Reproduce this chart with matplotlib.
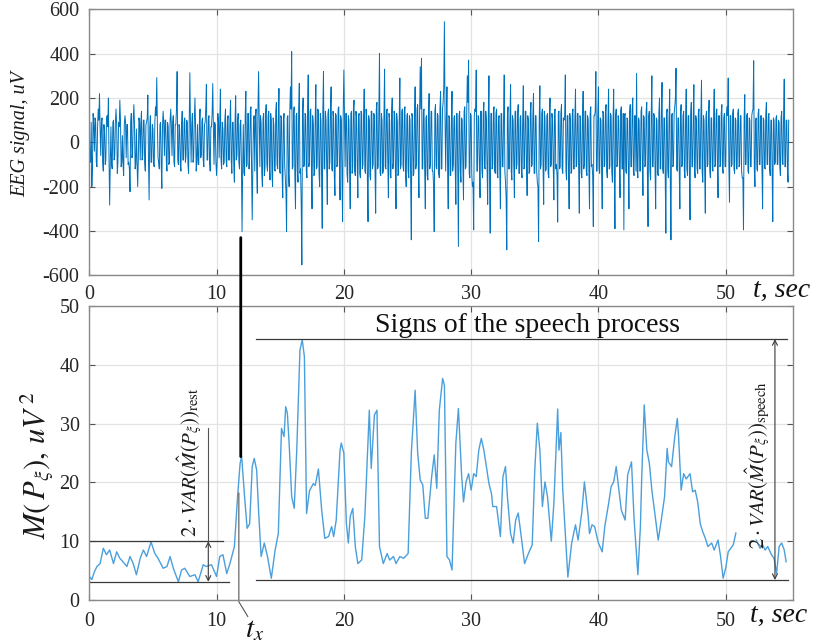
import numpy as np
import matplotlib
matplotlib.use("Agg")
import matplotlib.pyplot as plt
from matplotlib.patches import ConnectionPatch

plt.rcParams['font.family'] = ['Liberation Serif', 'DejaVu Serif']
plt.rcParams['mathtext.fontset'] = 'stix'
plt.rcParams['axes.unicode_minus'] = False
# keep every sample of the dense EEG trace
plt.rcParams['path.simplify'] = False

# ---------------- data ----------------
# EEG signal, uV, sampled at 20 samples per second (one row per second)
eeg_uv = [
    60, -80, -90, 90, -200, -100, 130, 80, -40, 110, 90, -90, -110, 70, 150, 100, 220, 60, -60, 90,
    110, -90, -130, 80, 40, -100, -80, 100, 120, 70, 200, -80, -283, -90, 70, -100, -120, 90, 100, -80,
    -60, 90, 150, 80, -140, -90, 90, 70, 190, 100, -110, -90, 30, -100, -150, 80, 120, 90, -70, 80,
    80, -100, -90, -120, -223, 90, 130, -70, -50, 100, 170, 80, -120, -100, 60, -90, -200, -80, 110, 90,
    -80, 90, 140, -80, -60, 100, 100, -90, -130, 80, 90, 110, 213, -80, -260, 70, 120, -90, -90, 80,
    60, -100, -110, 90, 160, 120, 292, 80, -70, -90, -120, 80, 90, -100, -208, 70, 140, 90, -60, 100,
    100, -80, -130, 90, 70, -100, -90, 100, 150, 70, -60, 90, 120, -90, -110, 80, 80, 150, 319, -80,
    -100, 80, 60, -100, -130, 80, 140, -80, -80, 90, 110, -90, -60, 100, 90, -100, -140, 90, 314, 70,
    -90, 80, 130, -90, -70, 100, 200, 70, -130, -80, 80, -100, -100, 90, 150, -70, -60, 100, 110, -80,
    -110, 80, 90, 150, 262, -80, -80, 100, 120, -90, -130, 70, 70, 130, 265, 60, -100, 90, 80, -90,
    -150, -80, 130, 90, -70, 90, 240, -80, -120, 90, 60, -100, -90, 100, 150, -80, -110, 90, 120, -80,
    -80, 100, 190, -80, -140, 90, 90, -100, -180, 90, 210, -80, -60, 100, 130, -90, -120, 80, 100, -100,
    -403, -120, 80, -140, -150, 120, 230, -110, -100, 130, 130, -120, -60, 140, 160, -130, -350, -100, 100, 120,
    -130, 110, 150, -120, -230, 140, 319, 100, -110, 120, 90, -140, -200, 110, 130, -150, -120, 130, 170, -100,
    -130, 120, 140, -110, -170, 130, 100, -140, -200, 110, 80, -120, -130, 140, 180, -100, -120, 110, 243, -130,
    -140, 120, 110, -150, -250, 100, 130, -100, -160, -220, -403, 110, 120, -140, -200, 130, 250, 150, 409, -120,
    -110, 140, 160, -150, -300, 120, 130, -130, -180, 150, 266, -140, -120, -280, -553, 130, 200, -110, -100, 130,
    120, -130, -160, 150, 304, -110, -90, 140, 150, -100, -300, 120, 80, -150, -140, 110, 260, -120, -110, 150,
    140, -140, -200, 130, 100, -150, -388, 150, 319, -120, -120, 140, 100, -110, -280, 130, 150, -120, -90, 150,
    250, -120, -130, 140, 110, -150, -240, 130, 120, -110, -100, 150, 160, -100, -260, 120, 100, -150, -358, 140,
    326, 120, -110, 130, 130, -140, -180, 120, 100, -120, -300, 130, 140, -140, -110, 150, 190, -130, -150, 140,
    110, -100, -250, 120, 130, -140, -160, 140, 130, -120, -100, 110, 240, -130, -140, 150, 100, -170, -358, 120,
    100, -150, -170, 140, 140, -120, -100, 130, 120, -140, -320, 150, 180, -120, -110, 150, 401, -140, -150, 130,
    100, -140, -130, 120, 330, -110, -120, 140, 150, -90, -250, 130, 100, -150, -160, 130, 200, -120, -90, 140,
    120, -120, -300, 130, 90, -150, -140, 110, 290, -120, -100, 140, 150, -110, -130, 140, 160, -150, -200, 120,
    130, -130, -160, 120, 100, -180, -440, 130, 110, -150, -140, 100, 250, -120, -100, 150, 170, -100, -250, 130,
    341, 150, 379, -120, -120, 140, 150, -120, -300, 110, 120, -150, -170, 130, 220, -120, -100, 140, 140, -130,
    -130, -200, -403, 140, 170, -110, -120, 130, 120, -140, -160, 150, 230, -120, -120, 150, 180, 250, 544, 110,
    -130, 100, 250, -110, -300, 120, 110, -150, -150, 100, 230, -130, -100, 110, 120, -120, -280, 130, 130, -140,
    -470, 120, 140, -130, -180, 110, 100, -100, -260, 140, 160, -120, -110, 120, 300, 180, 371, -140, -160, 130,
    120, -140, -200, -180, -395, 120, 150, 140, 326, -130, -130, 120, 110, -100, -250, 140, 140, -130, -160, 130,
    180, -110, -120, 140, 100, -110, -280, 120, 300, -180, -410, 130, 130, -120, -100, 140, 160, -130, -140, 130,
    150, -140, -160, 110, 120, -120, -300, 130, 130, -110, -110, 120, 304, -130, -180, -250, -485, 120, 160, -120,
    -120, 110, 260, -130, -170, 120, 100, -100, -250, 140, 140, -120, -100, 130, 170, -140, -140, 110, 120, -130,
    -160, 100, 255, -120, -110, 140, 140, -100, -240, 120, 100, -140, -130, 130, 180, -110, -100, 120, 220, -140,
    -140, 120, 120, -130, -180, -200, -448, 100, 255, -120, -100, 130, 150, -110, -280, 140, 110, -130, -120, 120,
    130, -140, -160, 120, 200, -110, -100, 130, 100, -100, -260, 140, 150, -120, -100, -150, -360, 130, 140, -120,
    -110, 130, 170, -120, -140, 110, 100, 120, 304, -130, -170, 120, 120, -120, -300, 130, 100, -140, -130, 130,
    150, -120, -120, 100, 240, -110, -100, 130, 130, -130, -320, 120, 110, -140, -160, 100, 230, -120, -100, 140,
    140, -130, -150, 120, 100, -120, -300, 130, 160, -110, -100, -150, -380, 120, 120, 140, 319, -130, -130, 120,
    250, -120, -140, 110, 100, -120, -300, 140, 130, -110, -100, 130, 170, -130, -160, 100, 240, -120, -110, 130,
    120, -130, -180, 100, 240, -150, -390, 120, 150, -110, -100, 120, 100, -100, -250, 140, 160, -120, -120, 130,
    -395, 120, 130, -130, -140, 110, 100, -120, -300, 130, 170, -110, -110, 140, 200, -130, -150, 120, 120, -130,
    311, -130, -160, 110, 100, -130, -130, 140, 160, -90, -240, 120, 110, -110, -100, 140, 180, -150, -380, 120,
    140, -130, -170, 120, 300, -110, -110, 130, 120, -120, -300, 110, 100, -140, -150, 130, 200, -120, -120, 140,
    270, -120, -140, 110, 110, -160, -410, 130, 150, -130, -160, 100, 240, -180, -440, 120, 130, -110, -100, 130,
    160, 200, 334, -120, -130, 110, 110, -120, -300, 130, 170, -110, -100, 120, 140, -130, -160, 100, 240, -120,
    -150, 120, 120, -140, -350, 130, 180, -110, -110, 100, 260, -130, -160, 120, 100, -120, -140, 130, 150, -120,
    -120, 110, 280, -130, -180, 120, 100, -130, -320, 120, 140, -110, -100, 130, 190, -130, -160, 110, 110, -120,
    -130, 100, 240, -110, -100, 130, 150, -100, -250, 120, 120, -110, -100, 130, 170, -120, -140, 110, 130, -110,
    -110, 120, 160, 120, 290, -110, -270, 120, 120, -110, -100, 130, 150, -120, -140, 110, 100, -120, -120, 130,
    150, -110, -100, 120, 120, -130, -160, -160, -395, 110, 215, -100, -100, 120, 130, -130, -140, 110, 100, -110,
    -110, 120, 140, 150, 368, -120, -200, 100, 110, -120, -130, 130, 150, -100, -100, 120, 120, -120, -300, 110,
    100, -110, -120, 130, 180, -100, -100, 120, 130, -120, -150, 100, 100, -140, -358, 110, 100, -100, -90, 110,
    120, -100, -100, 100, 90, -110, -150, 110, 140, -90, -100, 120, 285, -110, -110, 100, 100, -120, -180, 100,
]
eeg_rate_hz = 20.0

# Mean power estimate M(P_xi), uV^2
power_t = [
    0.0, 0.2, 0.4, 0.6, 0.85, 1.1, 1.35, 1.6, 1.9, 2.15, 2.4, 2.65, 2.95, 3.2,
    3.45, 3.7, 4.0, 4.25, 4.5, 4.85, 5.15, 5.4, 5.8, 6.1, 6.35, 6.6, 7.0, 7.25,
    7.5, 7.9, 8.3, 8.55, 8.95, 9.2, 9.6, 10.0, 10.25, 10.5, 10.8, 11.05, 11.4,
    11.65, 11.85, 11.97, 12.2, 12.4, 12.6, 12.8, 12.96, 13.15, 13.3, 13.5, 13.75,
    14.0, 14.3, 14.6, 14.85, 15.1, 15.3, 15.43, 15.56, 15.7, 15.9, 16.1, 16.3,
    16.55, 16.73, 16.9, 17.07, 17.3, 17.6, 17.75, 18.0, 18.25, 18.5, 18.8, 19.04,
    19.2, 19.4, 19.7, 19.8, 20.0, 20.2, 20.35, 20.5, 20.7, 20.9, 21.1, 21.4,
    21.65, 22.0, 22.15, 22.4, 22.6, 22.8, 23.1, 23.4, 23.6, 23.9, 24.1, 24.4,
    24.7, 25.05, 25.3, 25.6, 25.8, 26.0, 26.2, 26.4, 26.6, 26.9, 27.1, 27.3,
    27.5, 27.76, 27.9, 28.1, 28.3, 28.5, 28.8, 29.0, 29.25, 29.4, 29.6, 29.8,
    30.0, 30.2, 30.4, 30.6, 30.8, 31.0, 31.2, 31.4, 31.6, 31.7, 32.0, 32.3,
    32.5, 32.7, 32.85, 33.1, 33.3, 33.5, 33.7, 34.0, 34.2, 34.5, 34.8, 35.0,
    35.2, 35.4, 35.6, 35.8, 36.0, 36.3, 36.5, 36.8, 36.9, 37.05, 37.2, 37.6,
    37.9, 38.2, 38.4, 38.7, 38.9, 39.2, 39.3, 39.5, 39.7, 40.0, 40.3, 40.5,
    40.8, 41.0, 41.2, 41.4, 41.6, 41.8, 42.1, 42.3, 42.6, 42.8, 43.1, 43.3,
    43.4, 43.6, 43.8, 44.0, 44.2, 44.4, 44.7, 44.9, 45.2, 45.4, 45.5, 45.75,
    46.0, 46.2, 46.3, 46.5, 46.7, 46.9, 47.2, 47.4, 47.6, 47.8, 48.0, 48.2,
    48.4, 48.6, 48.9, 49.1, 49.4, 49.6, 49.8, 50.0, 50.2, 50.4, 50.6, 50.8,
    51.5, 52.4, 52.7, 52.9, 53.1, 53.3, 53.6, 53.8, 54.0, 54.2, 54.4, 54.6,
    54.75,
]
power_uv2 = [
    4.0, 3.5, 4.8, 5.7, 6.2, 8.8, 7.7, 8.5, 6.2, 8.2, 7.1, 6.5, 5.7, 7.4,
    6.2, 4.3, 7.1, 8.5, 7.4, 9.9, 7.9, 7.1, 5.4, 5.7, 7.4, 5.4, 3.1, 5.1,
    5.4, 4.0, 4.3, 3.1, 6.0, 5.7, 6.0, 4.0, 7.4, 7.7, 4.5, 6.2, 9.1,
    17.6, 23.3, 24.4, 17.6, 12.2, 13.0, 22.7, 24.1, 22.1, 15.2, 7.4, 9.7,
    7.4, 3.7, 8.5, 11.3, 29.2, 27.8, 32.9, 31.8, 26.7, 17.6, 15.6, 25.5,
    42.5, 44.3, 41.4, 14.7, 18.6, 19.8, 19.5, 22.3, 15.5, 10.5, 10.8, 12.5,
    10.8, 13.6, 25.5, 26.7, 25.0, 13.0, 9.7, 14.2, 15.6, 9.1, 6.2, 6.8,
    14.2, 32.3, 22.4, 31.5, 32.3, 9.1, 6.2, 7.9, 6.8, 7.4, 6.2, 7.4,
    7.1, 7.9, 25.0, 35.7, 25.0, 20.4, 19.6, 13.9, 13.9, 21.0, 24.7, 19.0,
    32.3, 37.7, 36.6, 7.4, 6.8, 5.1, 26.7, 32.6, 21.3, 16.7, 20.1, 21.5,
    18.7, 21.5, 21.0, 25.5, 27.5, 25.5, 22.7, 19.8, 18.1, 15.9, 15.9, 10.8,
    21.0, 22.7, 17.6, 11.3, 9.7, 13.6, 14.8, 9.7, 6.2, 7.9, 9.4, 22.1,
    30.1, 25.5, 15.9, 20.1, 17.6, 10.0, 16.4, 32.5, 25.5, 28.5, 18.7, 3.9,
    9.7, 12.8, 10.2, 15.0, 20.1, 14.2, 11.3, 12.8, 12.5, 9.7, 8.2, 12.5,
    16.4, 19.3, 20.1, 22.7, 18.9, 15.3, 13.6, 21.3, 23.5, 13.9, 4.3, 12.5,
    20.6, 33.2, 25.6, 23.3, 18.7, 15.3, 10.2, 13.0, 17.6, 25.8, 23.5, 22.7,
    27.8, 30.9, 27.8, 18.7, 21.5, 20.6, 21.5, 18.4, 18.7, 16.7, 13.0, 11.6,
    10.5, 9.1, 9.7, 8.5, 10.2, 7.4, 3.7, 5.4, 8.2, 8.8, 9.4, 11.4,
    np.nan, 10.2, 8.8, 9.4, 8.5, 9.1, 7.7, 7.1, 4.5, 9.1, 9.7, 8.5,
    6.5,
]

# Reference levels of the rest and speech segments
rest_low, rest_high = 3.1, 10.0
speech_low, speech_high = 3.4, 44.4
t_x = 11.9

# ---------------- figure ----------------
W, H = 816, 642
fig = plt.figure(figsize=(W / 100, H / 100), dpi=100)

def axes_from_px(x0, y0, x1, y1):
    return fig.add_axes([x0 / W, 1 - y1 / H, (x1 - x0) / W, (y1 - y0) / H])

ax1 = axes_from_px(89.3, 9.3, 792.5, 275.3)
ax2 = axes_from_px(89.3, 306.2, 792.5, 600.0)

tick_color = '#262626'
for ax in (ax1, ax2):
    ax.grid(True, color='#e3e3e3', lw=0.9)
    ax.set_axisbelow(True)
    for s in ax.spines.values():
        s.set_color('#8a8a8a')
        s.set_linewidth(1.0)
    ax.tick_params(direction='in', length=4, width=0.8, color='#555555',
                   top=True, right=True, labelsize=14.5, labelcolor=tick_color)
    ax.set_xlim(0, 55.25)
    ax.set_xticks([0, 10, 20, 30, 40, 50])

# EEG panel
t_eeg = np.arange(len(eeg_uv)) / eeg_rate_hz
ax1.plot(t_eeg, eeg_uv, color='#0072BD', lw=0.7)
ax1.set_ylim(-600, 600)
ax1.set_yticks(np.arange(-600, 601, 200))
ax1.tick_params(axis='x', pad=7)
ax1.tick_params(axis='y', pad=7)

# Power panel
ax2.plot(power_t, power_uv2, color='#4a9fdc', lw=1.0)
ax2.set_ylim(0, 50)
ax2.set_yticks(np.arange(0, 51, 10))
ax2.tick_params(axis='x', pad=9)
ax2.tick_params(axis='y', pad=7)

line_kw = dict(color='#3a3a3a', lw=0.9)
ax2.plot([0, 10.5], [rest_high, rest_high], **line_kw)
ax2.plot([0, 10.95], [rest_low, rest_low], **line_kw)
ax2.plot([13.1, 54.8], [speech_high, speech_high], **line_kw)
ax2.plot([13.1, 54.9], [speech_low, speech_low], **line_kw)

arrow_kw = dict(arrowstyle='<->', color='#3a3a3a', lw=0.8,
                shrinkA=0, shrinkB=0, mutation_scale=9)
ax2.annotate('', xy=(9.35, rest_low), xytext=(9.35, rest_high), arrowprops=arrow_kw)
ax2.plot([9.35, 9.35], [rest_high, 29.2], color='#555555', lw=0.8)
ax2.annotate('', xy=(53.87, speech_low), xytext=(53.87, speech_high), arrowprops=arrow_kw)

ax2.text(7.95, 23.4, r'$2\cdot VAR(\hat{M}(P_{\xi}))_{\rm rest}$', rotation=90,
         ha='center', va='center', fontsize=15, color='#1a1a1a')
ax2.text(52.5, 23.0, r'$2\cdot VAR(\hat{M}(P_{\xi}))_{\rm speech}$', rotation=90,
         ha='center', va='center', fontsize=15, color='#1a1a1a')

ax2.text(34.4, 45.6, 'Signs of the speech process', ha='center', va='baseline',
         fontsize=20, color='#111111')

# t_x marker: line joining the two panels and its pointer label
con = ConnectionPatch(xyA=(t_x, -430), coordsA=ax1.transData,
                      xyB=(t_x, 24.4), coordsB=ax2.transData,
                      color='black', lw=2.0)
fig.add_artist(con)
ax2.plot([11.75, 11.75, 12.45], [18.2, -0.3, -2.8], color='#555555', lw=0.8,
         clip_on=False)
ax2.text(13.0, -5.2, r'$t_x$', ha='center', va='center', fontsize=21,
         color='#111111')

# axis captions
fig.text(21 / W, 1 - 134 / H, 'EEG signal, uV', rotation=90, ha='center',
         va='center', fontsize=14.5, fontstyle='italic', color='#1a1a1a')
fig.text(37 / W, 1 - 465 / H, r'$M(\,P_{\xi}),\,uV^{\,2}$', rotation=90,
         ha='center', va='center', fontsize=22, color='#1a1a1a')
fig.text(782 / W, 1 - 290 / H, 't, sec', ha='center', va='center', fontsize=20,
         fontstyle='italic', color='#111111')
fig.text(779 / W, 1 - 615 / H, 't, sec', ha='center', va='center', fontsize=20,
         fontstyle='italic', color='#111111')

fig.savefig('out.png', dpi=100)
